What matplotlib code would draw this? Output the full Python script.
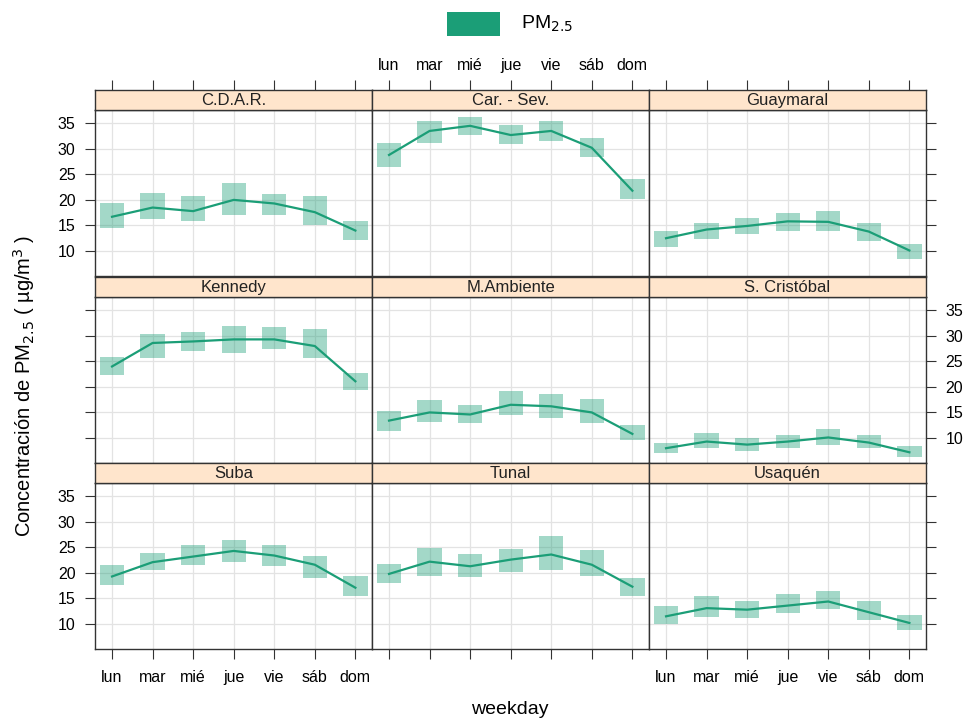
import matplotlib
matplotlib.use("Agg")
import matplotlib.pyplot as plt
from matplotlib.patches import Rectangle

plt.rcParams['font.family'] = ['Liberation Sans', 'DejaVu Sans']

# weekday means of PM2.5 with confidence interval per station
days = ['lun', 'mar', 'mié', 'jue', 'vie', 'sáb', 'dom']
stations = ['C.D.A.R.', 'Car. - Sev.', 'Guaymaral',
            'Kennedy', 'M.Ambiente', 'S. Cristóbal',
            'Suba', 'Tunal', 'Usaquén']

pm25_mean = {
    'C.D.A.R.':     [16.7, 18.5, 17.8, 20.0, 19.3, 17.6, 14.0],
    'Car. - Sev.':  [28.8, 33.5, 34.5, 32.7, 33.5, 30.2, 21.8],
    'Guaymaral':    [12.5, 14.2, 14.9, 15.8, 15.7, 13.8, 10.1],
    'Kennedy':      [24.0, 28.6, 28.9, 29.3, 29.3, 28.0, 21.1],
    'M.Ambiente':   [13.4, 15.0, 14.6, 16.5, 16.2, 15.0, 10.8],
    'S. Cristóbal': [8.0, 9.3, 8.7, 9.3, 10.1, 9.1, 7.2],
    'Suba':         [19.3, 22.1, 23.2, 24.3, 23.4, 21.6, 17.1],
    'Tunal':        [19.8, 22.2, 21.3, 22.6, 23.6, 21.6, 17.3],
    'Usaquén':      [11.5, 13.1, 12.8, 13.6, 14.4, 12.3, 10.2],
}
pm25_lower = {
    'C.D.A.R.':     [14.4, 16.2, 15.8, 17.1, 17.1, 15.0, 12.1],
    'Car. - Sev.':  [26.5, 31.1, 32.7, 30.9, 31.6, 28.4, 20.1],
    'Guaymaral':    [10.7, 12.3, 13.4, 13.9, 14.0, 12.0, 8.5],
    'Kennedy':      [22.4, 25.6, 27.1, 26.7, 27.4, 25.7, 19.4],
    'M.Ambiente':   [11.4, 13.2, 12.9, 14.5, 14.0, 12.9, 9.6],
    'S. Cristóbal': [7.0, 8.0, 7.4, 8.0, 8.7, 8.0, 6.3],
    'Suba':         [17.7, 20.5, 21.6, 22.1, 21.4, 19.0, 15.4],
    'Tunal':        [18.0, 19.4, 19.2, 20.1, 20.5, 19.3, 15.4],
    'Usaquén':      [10.0, 11.3, 11.1, 12.1, 12.9, 10.8, 8.9],
}
pm25_upper = {
    'C.D.A.R.':     [19.3, 21.4, 20.8, 23.3, 21.2, 20.7, 15.8],
    'Car. - Sev.':  [31.1, 35.4, 36.3, 34.7, 35.4, 32.1, 24.0],
    'Guaymaral':    [14.0, 15.5, 16.5, 17.4, 17.8, 15.4, 11.4],
    'Kennedy':      [25.9, 30.4, 30.8, 31.9, 31.7, 31.4, 22.7],
    'M.Ambiente':   [15.3, 17.4, 16.4, 19.1, 18.6, 17.6, 12.6],
    'S. Cristóbal': [9.1, 11.0, 9.9, 10.6, 11.7, 10.6, 8.5],
    'Suba':         [21.5, 23.9, 25.5, 26.5, 25.4, 23.4, 19.3],
    'Tunal':        [21.8, 24.9, 23.7, 24.7, 27.3, 24.5, 19.0],
    'Usaquén':      [13.6, 15.4, 14.4, 15.9, 16.5, 14.4, 11.8],
}
yticks = [10, 15, 20, 25, 30, 35]

W, H = 966, 721
green = '#1B9E77'
strip_col = '#FFE5CC'
frame_col = '#333333'
tick_fs = 11.5

fig = plt.figure(figsize=(W / 100, H / 100), dpi=100)

col_x = [95, 372, 649]
col_w = 277
row_y = [90, 277, 463]   # top of strip, pixels
strip_h = 20
panel_h = 166

xs = list(range(1, 8))
xlim = (0.58, 7.41)
ylim = (5.1, 37.6)


def fig_box(x, y, w, h):
    return [x / W, 1 - (y + h) / H, w / W, h / H]


for i, st in enumerate(stations):
    r, c = divmod(i, 3)
    ax = fig.add_axes(fig_box(col_x[c], row_y[r] + strip_h, col_w, panel_h))
    sax = fig.add_axes(fig_box(col_x[c], row_y[r], col_w, strip_h))

    lo = pm25_lower[st]
    hi = pm25_upper[st]
    ax.bar(xs, [h - l for h, l in zip(hi, lo)], bottom=lo, width=0.6,
           color=green, alpha=0.4, linewidth=0, zorder=2)
    ax.plot(xs, pm25_mean[st], color=green, lw=1.6, zorder=3)

    ax.set_xlim(xlim)
    ax.set_ylim(ylim)
    ax.set_xticks(xs)
    ax.set_yticks(yticks)
    ax.grid(True, color='#E3E3E3', lw=0.9, zorder=0)
    ax.set_axisbelow(True)
    for sp in ax.spines.values():
        sp.set_color(frame_col)
        sp.set_linewidth(1.0)

    # y ticks alternate left/right by row
    left_lab = r in (0, 2)
    right_lab = r == 1
    ax.tick_params(axis='y', direction='out', length=7, width=0.8,
                   color=frame_col, labelsize=tick_fs, pad=7,
                   left=(c == 0), right=(c == 2),
                   labelleft=(c == 0 and left_lab),
                   labelright=(c == 2 and right_lab))
    # x ticks only on bottom row
    ax.tick_params(axis='x', direction='out', length=7, width=0.8,
                   color=frame_col, labelsize=tick_fs, pad=8,
                   bottom=(r == 2), top=False,
                   labelbottom=(r == 2 and c != 1), labeltop=False)
    ax.set_xticklabels(days)

    # strip
    sax.set_facecolor(strip_col)
    sax.set_xlim(xlim)
    sax.set_ylim(0, 1)
    sax.set_yticks([])
    sax.set_xticks(xs)
    sax.set_xticklabels(days)
    sax.tick_params(axis='x', direction='out', length=7, width=0.8,
                    color=frame_col, labelsize=tick_fs, pad=5,
                    bottom=False, labelbottom=False,
                    top=(r == 0), labeltop=(r == 0 and c == 1))
    for sp in sax.spines.values():
        sp.set_color(frame_col)
        sp.set_linewidth(1.0)
    sax.text(0.5, 0.47, st, transform=sax.transAxes, ha='center',
             va='center', fontsize=12, color='#222222')

# legend on top
fig.patches.append(Rectangle((447 / W, 1 - 36 / H), 53 / W, 24 / H,
                             transform=fig.transFigure, facecolor=green,
                             edgecolor='none'))
fig.text(521 / W, 1 - 24 / H, 'PM$_{2.5}$', fontsize=14, va='center',
         ha='left')

fig.text(24 / W, 1 - 386 / H,
         'Concentración de PM$_{2.5}$ ( µg/m$^{3}$ )', rotation=90,
         fontsize=14.5, ha='center', va='center')
fig.text(510 / W, 1 - 710 / H, 'weekday', fontsize=14, ha='center',
         va='center')

fig.savefig('out.png', dpi=100)
